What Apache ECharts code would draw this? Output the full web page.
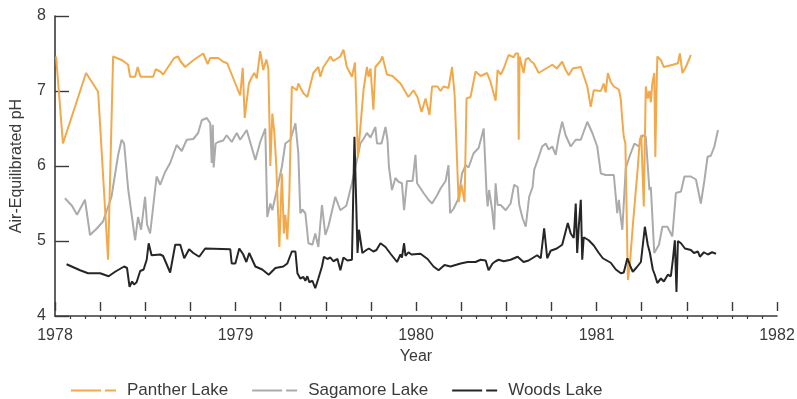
<!DOCTYPE html>
<html>
<head>
<meta charset="utf-8">
<script src="https://cdn.jsdelivr.net/npm/echarts@6/dist/echarts.min.js"></script>
<style>
  html, body { margin: 0; padding: 0; background: #fff; }
  #chart { width: 797px; height: 399px; }
</style>
</head>
<body>
<div id="chart"></div>
<script>
// Sampling dates (decimal years) and air-equilibrated pH for the three lakes
const pantherYears = [1978.006,1978.044,1978.172,1978.239,1978.294,1978.322,1978.372,1978.405,1978.416,1978.444,1978.458,1978.474,1978.544,1978.558,1978.583,1978.599,1978.638,1978.660,1978.682,1978.694,1978.721,1978.766,1978.821,1978.846,1978.860,1978.904,1978.932,1978.954,1979.026,1979.040,1979.051,1979.074,1979.087,1979.104,1979.118,1979.137,1979.154,1979.171,1979.182,1979.193,1979.204,1979.215,1979.226,1979.243,1979.257,1979.268,1979.276,1979.287,1979.298,1979.312,1979.340,1979.348,1979.376,1979.398,1979.431,1979.459,1979.470,1979.487,1979.526,1979.542,1979.581,1979.598,1979.617,1979.645,1979.662,1979.678,1979.709,1979.728,1979.737,1979.748,1979.764,1979.775,1979.803,1979.814,1979.839,1979.870,1979.914,1979.958,1979.986,1980.008,1980.031,1980.053,1980.075,1980.089,1980.119,1980.136,1980.153,1980.180,1980.200,1980.214,1980.236,1980.252,1980.269,1980.280,1980.302,1980.330,1980.358,1980.394,1980.413,1980.441,1980.452,1980.469,1980.486,1980.513,1980.541,1980.552,1980.566,1980.569,1980.574,1980.596,1980.608,1980.624,1980.635,1980.652,1980.680,1980.707,1980.755,1980.780,1980.810,1980.829,1980.846,1980.868,1980.913,1980.949,1980.968,1980.985,1981.024,1981.040,1981.051,1981.063,1981.079,1981.096,1981.124,1981.135,1981.143,1981.151,1981.160,1981.174,1981.185,1981.201,1981.229,1981.240,1981.248,1981.262,1981.273,1981.284,1981.293,1981.301,1981.309,1981.320,1981.326,1981.332,1981.337,1981.357,1981.373,1981.423,1981.451,1981.462,1981.476,1981.495,1981.523];
const pantherPH = [7.46,6.30,7.24,6.99,4.75,7.46,7.41,7.35,7.19,7.19,7.32,7.19,7.19,7.29,7.26,7.22,7.36,7.44,7.46,7.40,7.32,7.41,7.50,7.36,7.44,7.44,7.39,7.37,6.94,7.31,6.64,7.10,7.17,7.24,7.17,7.53,7.28,7.42,7.30,6.00,6.70,6.45,6.00,4.92,5.90,5.10,5.35,5.02,5.60,7.06,7.01,7.10,6.97,6.92,7.24,7.32,7.19,7.32,7.46,7.40,7.46,7.55,7.32,7.19,7.38,6.12,7.01,7.32,7.19,7.30,6.75,7.32,7.40,7.46,7.22,7.20,7.10,6.92,7.01,6.92,6.72,6.90,6.68,7.06,7.06,7.00,7.06,7.04,7.32,6.95,5.52,5.75,5.52,6.90,6.92,7.26,7.20,7.24,7.12,6.87,7.28,7.22,7.30,7.48,7.45,7.50,7.50,6.35,7.46,7.24,7.42,7.44,7.40,7.37,7.24,7.28,7.35,7.30,7.39,7.28,7.21,7.30,7.32,7.06,6.79,7.01,7.00,7.10,6.98,7.24,7.12,7.06,7.02,6.88,6.61,6.39,6.30,4.48,4.70,5.20,5.99,6.35,6.41,5.46,7.06,6.90,7.00,6.85,7.10,7.24,6.12,6.95,7.46,7.41,7.32,7.35,7.37,7.50,7.24,7.32,7.48];

const sagamoreYears = [1978.055,1978.094,1978.122,1978.166,1978.194,1978.233,1978.266,1978.313,1978.350,1978.369,1978.383,1978.405,1978.444,1978.460,1978.477,1978.499,1978.510,1978.527,1978.563,1978.583,1978.610,1978.638,1978.674,1978.702,1978.730,1978.766,1978.793,1978.813,1978.841,1978.860,1978.868,1978.874,1978.879,1978.890,1978.904,1978.932,1978.951,1978.979,1979.007,1979.026,1979.062,1979.110,1979.137,1979.165,1979.176,1979.193,1979.204,1979.229,1979.257,1979.276,1979.304,1979.332,1979.348,1979.359,1979.370,1979.387,1979.404,1979.426,1979.442,1979.459,1979.479,1979.498,1979.515,1979.553,1979.581,1979.614,1979.645,1979.673,1979.692,1979.709,1979.728,1979.748,1979.775,1979.784,1979.809,1979.831,1979.842,1979.850,1979.867,1979.886,1979.903,1979.922,1979.934,1979.950,1979.981,1979.997,1980.006,1980.042,1980.069,1980.089,1980.117,1980.136,1980.164,1980.180,1980.189,1980.208,1980.236,1980.255,1980.275,1980.291,1980.319,1980.347,1980.375,1980.391,1980.397,1980.405,1980.422,1980.433,1980.441,1980.452,1980.469,1980.497,1980.524,1980.544,1980.563,1980.572,1980.591,1980.608,1980.627,1980.646,1980.655,1980.674,1980.699,1980.719,1980.735,1980.755,1980.774,1980.791,1980.810,1980.829,1980.857,1980.885,1980.913,1980.949,1980.977,1981.004,1981.024,1981.051,1981.096,1981.115,1981.124,1981.135,1981.143,1981.162,1981.182,1981.210,1981.235,1981.254,1981.273,1981.293,1981.301,1981.320,1981.346,1981.365,1981.393,1981.420,1981.440,1981.468,1981.487,1981.523,1981.551,1981.578,1981.598,1981.615,1981.634,1981.653,1981.673];
const sagamorePH = [5.57,5.47,5.35,5.55,5.08,5.17,5.26,5.59,6.15,6.35,6.30,5.70,5.01,5.32,5.15,5.59,5.22,5.10,5.86,5.75,5.92,6.04,6.28,6.20,6.35,6.36,6.44,6.61,6.64,6.57,6.04,6.55,5.98,6.30,6.32,6.34,6.41,6.32,6.44,6.35,6.48,6.08,6.32,6.50,5.32,5.50,5.41,5.68,5.99,6.30,6.35,6.57,6.17,5.37,5.42,5.37,4.97,4.95,5.10,4.92,5.48,5.08,5.20,5.59,5.41,5.47,5.77,6.08,6.30,6.36,6.44,6.38,6.52,6.30,6.30,6.52,6.35,5.99,5.68,5.84,5.79,5.77,5.41,5.80,5.80,6.15,5.77,5.64,5.55,5.50,5.61,5.70,5.80,6.01,5.37,5.43,5.57,5.90,6.01,5.98,6.17,6.24,6.50,5.64,5.46,5.68,5.41,5.15,5.77,5.48,5.48,5.41,5.50,5.75,5.72,5.48,5.30,5.19,5.59,5.72,5.95,6.08,6.26,6.30,6.22,6.26,6.15,6.39,6.59,6.41,6.26,6.35,6.35,6.59,6.44,6.26,5.90,5.88,5.88,5.37,5.55,5.30,5.15,5.97,6.12,6.30,6.26,6.41,6.39,5.68,5.72,4.84,4.95,5.19,5.19,5.06,5.64,5.66,5.86,5.86,5.82,5.50,5.81,6.12,6.14,6.26,6.48];

const woodsYears = [1978.064,1978.139,1978.183,1978.250,1978.297,1978.333,1978.383,1978.399,1978.413,1978.427,1978.438,1978.452,1978.472,1978.491,1978.508,1978.519,1978.535,1978.583,1978.599,1978.638,1978.666,1978.694,1978.716,1978.743,1978.766,1978.799,1978.832,1978.971,1978.979,1978.999,1979.021,1979.043,1979.060,1979.076,1979.093,1979.110,1979.148,1979.184,1979.221,1979.265,1979.287,1979.312,1979.332,1979.343,1979.359,1979.376,1979.387,1979.398,1979.409,1979.426,1979.442,1979.459,1979.479,1979.490,1979.509,1979.526,1979.542,1979.565,1979.581,1979.598,1979.620,1979.645,1979.656,1979.659,1979.670,1979.676,1979.684,1979.692,1979.703,1979.725,1979.739,1979.764,1979.781,1979.803,1979.831,1979.859,1979.895,1979.914,1979.922,1979.934,1979.942,1979.958,1979.975,1980.025,1980.064,1980.097,1980.125,1980.158,1980.191,1980.247,1980.286,1980.330,1980.358,1980.386,1980.402,1980.424,1980.441,1980.458,1980.486,1980.524,1980.563,1980.596,1980.624,1980.671,1980.691,1980.710,1980.727,1980.746,1980.780,1980.810,1980.841,1980.857,1980.874,1980.885,1980.893,1980.902,1980.913,1980.921,1980.929,1980.957,1980.985,1981.013,1981.035,1981.079,1981.107,1981.135,1981.151,1981.171,1981.190,1981.201,1981.223,1981.246,1981.257,1981.268,1981.284,1981.296,1981.312,1981.323,1981.337,1981.357,1981.373,1981.395,1981.412,1981.423,1981.434,1981.443,1981.451,1981.468,1981.490,1981.523,1981.540,1981.562,1981.573,1981.595,1981.617,1981.640,1981.662];
const woodsPH = [4.69,4.61,4.57,4.57,4.53,4.59,4.66,4.64,4.39,4.46,4.42,4.45,4.60,4.62,4.75,4.97,4.81,4.82,4.80,4.58,4.95,4.95,4.77,4.89,4.84,4.79,4.90,4.89,4.70,4.70,4.90,4.82,4.72,4.84,4.75,4.66,4.62,4.55,4.64,4.66,4.70,4.86,4.86,4.57,4.50,4.52,4.47,4.53,4.45,4.47,4.37,4.50,4.66,4.79,4.76,4.78,4.73,4.76,4.61,4.78,4.74,4.75,4.76,6.39,6.39,4.84,5.15,5.13,4.84,4.88,4.90,4.86,4.88,4.97,4.92,4.83,4.72,4.82,4.78,4.97,4.80,4.85,4.82,4.83,4.76,4.66,4.61,4.68,4.66,4.70,4.72,4.72,4.75,4.74,4.61,4.70,4.73,4.75,4.73,4.75,4.79,4.72,4.74,4.81,4.77,5.17,4.77,4.87,4.90,4.95,5.24,5.10,5.04,5.50,4.84,5.20,5.55,4.75,5.05,5.01,4.94,4.84,4.77,4.71,4.62,4.57,4.58,4.77,4.65,4.59,4.65,4.72,4.74,5.19,4.95,4.84,4.62,4.55,4.44,4.50,4.46,4.55,4.53,4.75,5.01,4.32,5.00,4.97,4.90,4.88,4.84,4.86,4.79,4.85,4.82,4.85,4.83];

const lakeNames = ['Panther Lake', 'Sagamore Lake', 'Woods Lake'];
const yearTicks = [1978, 1979, 1980, 1981, 1982];
const pHTicks = [4, 5, 6, 7, 8];

const zip = (xs, ys) => xs.map((x, i) => [x, ys[i]]);

const textColor = '#3a3a3a';
const axisColor = '#3a3a3a';
const font = '"Liberation Sans", Arial, Helvetica, sans-serif';
const lakeColors = ['#F2A94C', '#ABABAB', '#262626'];
// long dash + short dash legend key
const keyIcon = 'path://M0,0H30V2H0Z M34,0H45V2H34Z';

const chart = echarts.init(document.getElementById('chart'), null, { renderer: 'canvas' });

chart.setOption({
  animation: false,
  backgroundColor: '#ffffff',
  grid: { left: 55, right: 20, top: 16, bottom: 83, containLabel: false, outerBoundsMode: 'none' },
  legend: {
    data: lakeNames.map(n => ({ name: n, icon: keyIcon })),
    left: 66,
    top: 377,
    itemWidth: 45,
    itemHeight: 2,
    itemGap: 24,
    textStyle: { fontFamily: font, fontSize: 17, color: textColor, padding: [0, 0, 0, 6] }
  },
  xAxis: [{
    type: 'value',
    min: yearTicks[0],
    max: yearTicks[yearTicks.length - 1],
    interval: 1,
    name: 'Year',
    nameLocation: 'middle',
    nameGap: 33,
    nameTextStyle: { fontFamily: font, fontSize: 16, color: textColor },
    axisLine: { show: true, lineStyle: { color: axisColor, width: 1.6 } },
    axisTick: { show: false },
    minorTick: { show: true, splitNumber: 12, length: 3, lineStyle: { color: axisColor, width: 1.2 } },
    minorSplitLine: { show: false },
    axisLabel: { fontFamily: font, fontSize: 16, color: textColor, margin: 12, formatter: v => String(v) },
    splitLine: { show: false }
  }, {
    // quarterly marks floating just above the baseline
    type: 'value',
    position: 'bottom',
    offset: -5,
    min: yearTicks[0],
    max: yearTicks[yearTicks.length - 1],
    interval: 0.25,
    axisLine: { show: false },
    axisTick: { show: true, inside: true, length: 9, lineStyle: { color: axisColor, width: 1.4 } },
    axisLabel: { show: false },
    splitLine: { show: false }
  }],
  yAxis: {
    type: 'value',
    min: pHTicks[0],
    max: pHTicks[pHTicks.length - 1],
    interval: 1,
    name: 'Air-Equilibrated pH',
    nameLocation: 'middle',
    nameGap: 30,
    nameTextStyle: { fontFamily: font, fontSize: 16, color: textColor },
    axisLine: { show: true, lineStyle: { color: axisColor, width: 1.6 } },
    axisTick: { show: true, inside: true, length: 14, lineStyle: { color: axisColor, width: 1.4 } },
    axisLabel: { fontFamily: font, fontSize: 16, color: textColor, margin: 9 },
    splitLine: { show: false }
  },
  series: [
    {
      name: lakeNames[1], type: 'line', z: 2, showSymbol: false, symbol: 'none',
      data: zip(sagamoreYears, sagamorePH),
      lineStyle: { color: lakeColors[1], width: 2 }, itemStyle: { color: lakeColors[1] }
    },
    {
      name: lakeNames[0], type: 'line', z: 3, showSymbol: false, symbol: 'none',
      data: zip(pantherYears, pantherPH),
      lineStyle: { color: lakeColors[0], width: 2 }, itemStyle: { color: lakeColors[0] }
    },
    {
      name: lakeNames[2], type: 'line', z: 4, showSymbol: false, symbol: 'none',
      data: zip(woodsYears, woodsPH),
      lineStyle: { color: lakeColors[2], width: 2 }, itemStyle: { color: lakeColors[2] }
    }
  ]
});
</script>
</body>
</html>
